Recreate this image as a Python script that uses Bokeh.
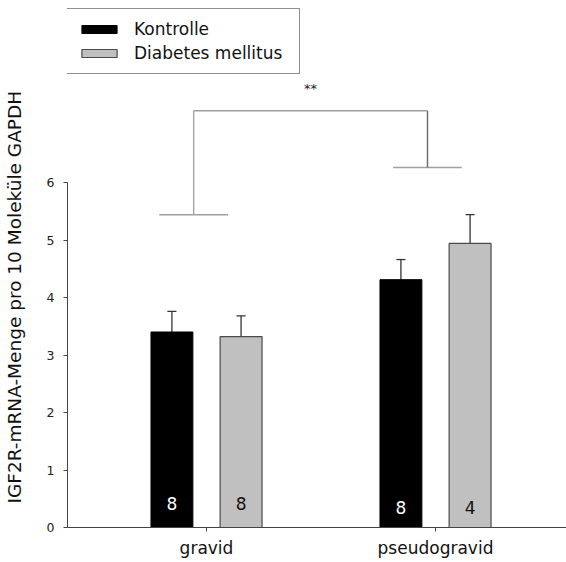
from bokeh.plotting import figure
from bokeh.models import (Range1d, FixedTicker, Whisker, TeeHead, ColumnDataSource,
                          Legend, LegendItem, Title)
from bokeh.core.properties import value
from bokeh.embed import file_html
from bokeh.resources import INLINE

# ---- data ----
groups = ["gravid", "pseudogravid"]
group_pos = [1, 2]
series = ["Kontrolle", "Diabetes mellitus"]
kontrolle = [3.40, 4.31]
kontrolle_err = [0.36, 0.35]
diabetes = [3.32, 4.94]
diabetes_err = [0.36, 0.50]
n_kontrolle = ["8", "8"]
n_diabetes = ["8", "4"]
# significance bracket (y-values of feet and top), label
bracket_feet = [5.44, 6.26]
bracket_top = 7.25
bracket_x = [0.944, 1.965]
sig_label = "**"
y_ticks = [0, 1, 2, 3, 4, 5, 6]

FONT = "DejaVu Sans"
off = 0.151
bw = 0.183

p = figure(width=566, height=562, output_backend="svg", toolbar_location=None,
           x_range=Range1d(0.393, 0.393 + 499 / 229), y_range=Range1d(0, 527 / 57.5),
           min_border_left=67, min_border_right=0, min_border_top=0, min_border_bottom=35)
p.outline_line_color = None
p.xgrid.visible = False
p.ygrid.visible = False
p.background_fill_color = "white"
p.border_fill_color = "white"

xk = [g - off for g in group_pos]
xd = [g + off for g in group_pos]

rk = p.vbar(x=xk, top=kontrolle, width=bw, fill_color="black", line_color="black", line_width=1)
rd = p.vbar(x=xd, top=diabetes, width=bw, fill_color="#c0c0c0", line_color="#4a4a4a", line_width=1.2)

# error bars (upper only)
src_k = ColumnDataSource(dict(x=xk, lo=kontrolle, hi=[v + e for v, e in zip(kontrolle, kontrolle_err)]))
src_d = ColumnDataSource(dict(x=xd, lo=diabetes, hi=[v + e for v, e in zip(diabetes, diabetes_err)]))
for s in (src_k, src_d):
    w = Whisker(base="x", lower="lo", upper="hi", source=s, line_color="#333333", line_width=1.3,
                lower_head=None, upper_head=TeeHead(size=9, line_color="#333333", line_width=1.3))
    p.add_layout(w)

# n labels in bars
p.text(x=xk, y=[0.42, 0.35], text=n_kontrolle, text_color="white", text_font=value(FONT),
       text_font_size="17px", text_align="center", text_baseline="middle")
p.text(x=xd, y=[0.42, 0.35], text=n_diabetes, text_color="#111111", text_font=value(FONT),
       text_font_size="17px", text_align="center", text_baseline="middle")

# significance bracket
cap = 0.15
p.segment(x0=[bx - cap for bx in bracket_x], y0=bracket_feet,
          x1=[bx + cap for bx in bracket_x], y1=bracket_feet, line_color="#a0a0a0", line_width=1.5)
p.segment(x0=bracket_x, y0=bracket_feet, x1=bracket_x, y1=[bracket_top] * 2,
          line_color=["#a8a8a8", "#707070"], line_width=1.5)
p.segment(x0=[bracket_x[0]], y0=[bracket_top], x1=[bracket_x[1]], y1=[bracket_top],
          line_color="#a0a0a0", line_width=1.5)
p.text(x=[sum(bracket_x) / 2], y=[7.63], text=[sig_label], text_font=value(FONT),
       text_font_size="13px", text_align="center", text_baseline="middle", text_color="#222222")

# axes
p.yaxis.ticker = FixedTicker(ticks=y_ticks)
p.yaxis.bounds = (0, 6)
p.yaxis.axis_line_color = "#444444"
p.yaxis.major_tick_line_color = "#444444"
p.yaxis.major_tick_out = 4
p.yaxis.major_tick_in = 0
p.yaxis.minor_tick_line_color = None
p.yaxis.major_label_standoff = 9
p.yaxis.major_label_text_font = FONT
p.yaxis.major_label_text_font_size = "12.5px"
p.yaxis.major_label_text_color = "#222222"
p.yaxis.axis_label = " "
p.yaxis.axis_label_text_font_size = "1px"
p.yaxis.axis_label_standoff = 15

p.xaxis.ticker = FixedTicker(ticks=group_pos)
p.xaxis.major_label_overrides = {g: lab for g, lab in zip(group_pos, groups)}
p.xaxis.axis_line_color = "#444444"
p.xaxis.major_tick_line_color = "#444444"
p.xaxis.major_tick_out = 4
p.xaxis.major_tick_in = 0
p.xaxis.minor_tick_line_color = None
p.xaxis.major_label_standoff = 6
p.xaxis.major_label_text_font = FONT
p.xaxis.major_label_text_font_size = "17px"
p.xaxis.major_label_text_color = "#111111"

ytitle = Title(text="IGF2R-mRNA-Menge pro 10 Moleküle GAPDH", align="left", offset=24,
               standoff=0, text_font=FONT, text_font_size="18.5px", text_font_style="normal",
               text_color="#111111")
p.add_layout(ytitle, "left")

legend = Legend(items=[LegendItem(label=series[0], renderers=[rk]),
                       LegendItem(label=series[1], renderers=[rd])],
                location=(-1, 453), glyph_width=44, glyph_height=10, label_height=20,
                label_standoff=13, spacing=4, padding=10, label_width=155,
                border_line_color="#222222", border_line_width=1.5,
                label_text_font=FONT, label_text_font_size="17px", label_text_color="#111111",
                background_fill_alpha=1.0)
p.add_layout(legend, "center")

open("out.html", "w").write(file_html(p, INLINE))
